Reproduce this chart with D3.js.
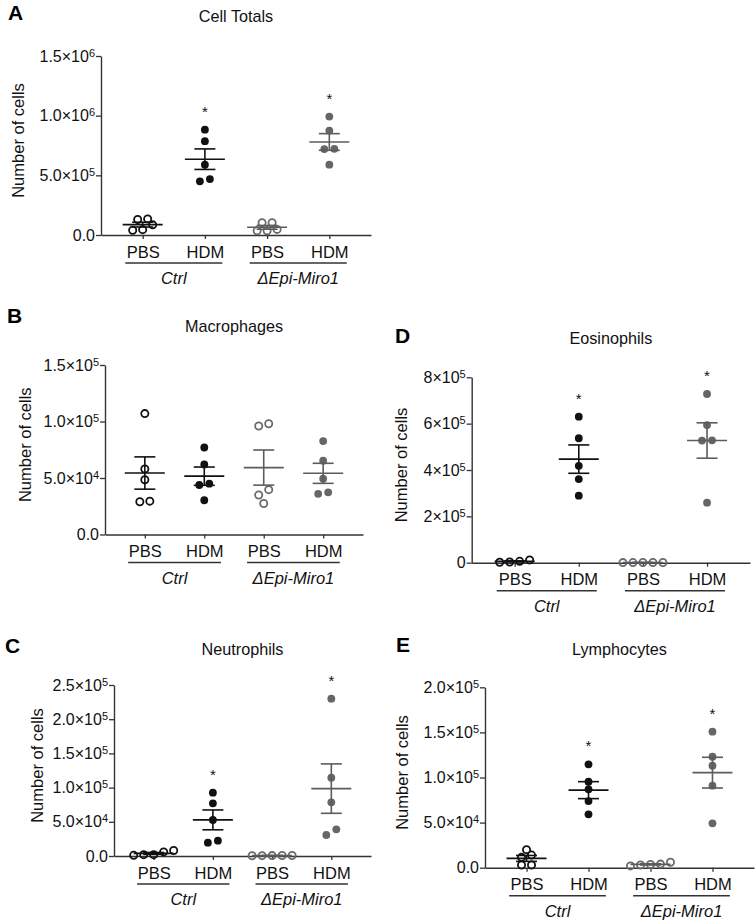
<!DOCTYPE html>
<html>
<head>
<meta charset="utf-8">
<script src="https://cdn.jsdelivr.net/npm/d3@7"></script>
<style>
  body { margin: 0; background: #fff; }
  text { font-family: "Liberation Sans", Arial, sans-serif; }
</style>
</head>
<body>
<div id="chart"></div>
<script>
// x categories
const treatments = ["PBS", "HDM", "PBS", "HDM"];
const genotypes = ["Ctrl", "ΔEpi-Miro1"];

// number of cells per mouse, order: Ctrl PBS, Ctrl HDM, ΔEpi PBS, ΔEpi HDM
const cellTotals = [
  [1.35e5, 0.45e5, 0.85e5, 1.3e5, 0.4e5],
  [8.83e5, 7.86e5, 5.89e5, 4.5e5, 4.69e5],
  [1.03e5, 0.35e5, 0.47e5, 1.03e5, 0.35e5],
  [9.92e5, 8.75e5, 7.22e5, 7.2e5, 5.89e5]
];
const macrophages = [
  [1.07e5, 5.8e4, 4.85e4, 2.9e4, 2.95e4],
  [7.7e4, 6.2e4, 4.5e4, 4.38e4, 3.03e4],
  [9.8e4, 9.6e4, 3.97e4, 3.5e4, 2.74e4],
  [8.27e4, 6.53e4, 4.94e4, 3.6e4, 3.73e4]
];
const neutrophils = [
  [2e3, 8e3, 1e3, 6e3, 2e3],
  [9.26e4, 7.7e4, 5.26e4, 1.95e4, 2.24e4],
  [500, 800, 600, 700, 400],
  [2.3e5, 1.145e5, 7.85e4, 3.9e4, 3.07e4]
];
const eosinophils = [
  [3e3, 1.2e4, 2e3, 6e3],
  [6.3e5, 5.37e5, 4.18e5, 3.61e5, 2.89e5],
  [1e3, 500, 800, 600, 700],
  [7.28e5, 5.94e5, 5.28e5, 5.27e5, 2.59e5]
];
const lymphocytes = [
  [2.0e4, 1.4e4, 1.15e4, 3e3, 3e3],
  [1.146e5, 9.53e4, 8.69e4, 7.39e4, 5.92e4],
  [4e3, 6e3, 3e3, 3.5e3, 2e3],
  [1.508e5, 1.23e5, 1.13e5, 9.09e4, 4.92e4]
];

// y tick values
const ticksA = [0, 5e5, 1e6, 1.5e6];
const ticksB = [0, 5e4, 1e5, 1.5e5];
const ticksC = [0, 5e4, 1e5, 1.5e5, 2e5, 2.5e5];
const ticksD = [0, 2e5, 4e5, 6e5, 8e5];
const ticksE = [0, 5e4, 1e5, 1.5e5, 2e5];

// significance stars per group
const starsA = [false, true, false, true];
const starsB = [false, false, false, false];
const starsC = [false, true, false, true];
const starsD = [false, true, false, true];
const starsE = [false, true, false, true];

var W = 756, H = 920;
var axisColor = "#333";
var groupStyle = [
  {color: "#111", open: true},
  {color: "#111", open: false},
  {color: "#6a6a6a", open: true},
  {color: "#666", open: false}
];
var lineColor = ["#111", "#111", "#5c5c5c", "#5c5c5c"];

var svg = d3.select("#chart").append("svg")
  .attr("width", W)
  .attr("height", H);

var panels = [
  {letter: "A", title: "Cell Totals", data: cellTotals, ticks: ticksA, stars: starsA, dec: true,
   left: 101, right: 371, top: 56, bottom: 235, titleY: 22, letterX: 8, letterY: 20, labelX: 18},
  {letter: "B", title: "Macrophages", data: macrophages, ticks: ticksB, stars: starsB, dec: true,
   left: 105, right: 363, top: 365, bottom: 534.5, titleY: 332, letterX: 7, letterY: 323, labelX: 25},
  {letter: "C", title: "Neutrophils", data: neutrophils, ticks: ticksC, stars: starsC, dec: true,
   left: 114, right: 371, top: 685, bottom: 856, titleY: 655, letterX: 5, letterY: 653, labelX: 37.5},
  {letter: "D", title: "Eosinophils", data: eosinophils, ticks: ticksD, stars: starsD, dec: false,
   left: 471.7, right: 750, top: 377.3, bottom: 562.7, titleY: 344, letterX: 395, letterY: 343, labelX: 401.7},
  {letter: "E", title: "Lymphocytes", data: lymphocytes, ticks: ticksE, stars: starsE, dec: true,
   left: 485, right: 754, top: 687.3, bottom: 867.7, titleY: 655, letterX: 396, letterY: 652, labelX: 402.5}
];

// GraphPad style scatter: points that would overlap share a row and get spread sideways
function swarm(vals, y, d, s) {
  var pts = vals.map(function(v) { return {v: v, py: y(v)}; })
    .sort(function(a, b) { return b.py - a.py; });
  var rows = [], cur = null;
  pts.forEach(function(p) {
    if (cur && cur[0].py - p.py < d) cur.push(p);
    else { cur = [p]; rows.push(cur); }
  });
  rows.forEach(function(r) {
    r.forEach(function(p, i) { p.dx = (i - (r.length - 1) / 2) * s; });
  });
  return pts;
}

function drawPanel(p) {
  var g = svg.append("g");
  var x = d3.scalePoint().domain([0, 1, 2, 3]).range([p.left, p.right]).padding(0.67);
  var y = d3.scaleLinear().domain([0, p.ticks[p.ticks.length - 1]]).range([p.bottom, p.top]);
  var step = x.step();

  // y axis
  var yAxis = g.append("g")
    .attr("transform", "translate(" + p.left + ",0)")
    .call(d3.axisLeft(y).tickValues(p.ticks).tickSize(5).tickSizeOuter(0).tickPadding(1));
  yAxis.selectAll("text").each(function(v) {
    var t = d3.select(this).text(null)
      .attr("font-size", 16).attr("fill", "#111");
    if (v === 0) { t.text(p.dec ? "0.0" : "0"); return; }
    var e = Math.floor(Math.log10(v) + 1e-9);
    var m = v / Math.pow(10, e);
    t.append("tspan").text((p.dec ? m.toFixed(1) : Math.round(m)) + "×10");
    t.append("tspan").attr("dy", "-0.45em").attr("font-size", 11).text(e);
  });

  // x axis
  var xAxis = g.append("g")
    .attr("transform", "translate(0," + p.bottom + ")")
    .call(d3.axisBottom(x).tickSize(4).tickSizeOuter(0).tickPadding(7)
      .tickFormat(function(i) { return treatments[i]; }));
  xAxis.selectAll("text").attr("font-size", 16.5).attr("fill", "#111");

  g.selectAll(".domain").attr("stroke", axisColor).attr("stroke-width", 1.4);
  g.selectAll(".tick line").attr("stroke", axisColor).attr("stroke-width", 1.3);

  // genotype underlines and labels
  genotypes.forEach(function(name, k) {
    var mid = (x(2 * k) + x(2 * k + 1)) / 2;
    var x1 = mid - 0.78 * step, x2 = mid + 0.78 * step;
    g.append("line")
      .attr("x1", x1).attr("x2", x2)
      .attr("y1", p.bottom + 28).attr("y2", p.bottom + 28)
      .attr("stroke", axisColor).attr("stroke-width", 1.4);
    g.append("text")
      .attr("x", mid).attr("y", p.bottom + 49)
      .attr("text-anchor", "middle")
      .attr("font-size", 16.5).attr("font-style", "italic").attr("fill", "#111")
      .text(name);
  });

  // title, panel letter, y label
  g.append("text")
    .attr("x", (p.left + p.right) / 2).attr("y", p.titleY)
    .attr("text-anchor", "middle").attr("font-size", 16.2).attr("fill", "#111")
    .text(p.title);
  g.append("text")
    .attr("x", p.letterX).attr("y", p.letterY)
    .attr("font-size", 21).attr("font-weight", "bold").attr("fill", "#000")
    .text(p.letter);
  g.append("text")
    .attr("transform", "translate(" + p.labelX + "," + ((p.top + p.bottom) / 2 - 5) + ") rotate(-90)")
    .attr("text-anchor", "middle").attr("dy", "0.35em")
    .attr("font-size", 16.5).attr("fill", "#111")
    .text("Number of cells");

  // mean ± SEM and points
  p.data.forEach(function(vals, i) {
    var cx = x(i);
    var mean = d3.mean(vals);
    var sem = d3.deviation(vals) / Math.sqrt(vals.length);
    var lc = lineColor[i];
    var st = groupStyle[i];

    var pts = swarm(vals, y, 7, 10);
    g.append("g").selectAll("circle").data(pts).enter()
      .append("circle")
      .attr("cx", function(d) { return cx + d.dx; })
      .attr("cy", function(d) { return d.py; })
      .attr("r", st.open ? 3.6 : 3.9)
      .attr("fill", st.open ? "none" : st.color)
      .attr("stroke", st.open ? st.color : "none")
      .attr("stroke-width", 1.8);

    g.append("line")
      .attr("x1", cx - 20).attr("x2", cx + 20)
      .attr("y1", y(mean)).attr("y2", y(mean))
      .attr("stroke", lc).attr("stroke-width", 1.6);
    g.append("line")
      .attr("x1", cx).attr("x2", cx)
      .attr("y1", y(mean - sem)).attr("y2", y(mean + sem))
      .attr("stroke", lc).attr("stroke-width", 1.6);
    [mean - sem, mean + sem].forEach(function(v) {
      g.append("line")
        .attr("x1", cx - 10.5).attr("x2", cx + 10.5)
        .attr("y1", y(v)).attr("y2", y(v))
        .attr("stroke", lc).attr("stroke-width", 1.6);
    });

    if (p.stars[i]) {
      g.append("text")
        .attr("x", cx).attr("y", y(d3.max(vals)) - 13)
        .attr("text-anchor", "middle").attr("font-size", 15).attr("fill", "#111")
        .text("*");
    }
  });
}

panels.forEach(drawPanel);
</script>
</body>
</html>
